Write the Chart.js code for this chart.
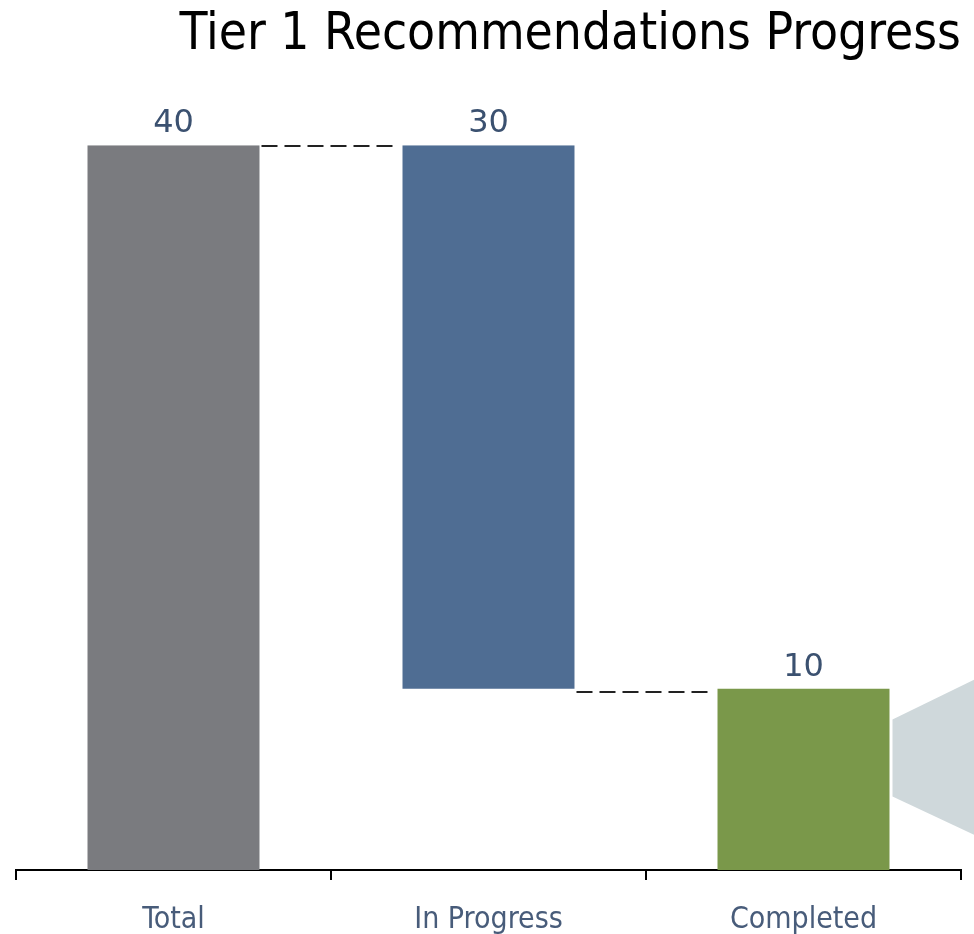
<!DOCTYPE html>
<html>
<head>
<meta charset="utf-8">
<script src="https://cdn.jsdelivr.net/npm/chart.js@4"></script>
<style>
  html, body { margin: 0; padding: 0; background: #fff; }
  #wrap { width: 974px; height: 934px; }
</style>
</head>
<body>
<div id="wrap"><canvas id="chart"></canvas></div>
<script>
const categories = ['Total', 'In Progress', 'Completed'];
const barStarts = [0, 10, 0];
const barEnds = [40, 40, 10];
const barColors = ['#7a7b7f', '#4f6d93', '#7a984a'];

// waterfall: each floating bar runs from start to end
const ranges = categories.map(function (c, i) { return [barStarts[i], barEnds[i]]; });

const overlay = {
    id: 'overlay',
    afterDatasetsDraw: function (chart) {
        const ctx = chart.ctx;
        const meta = chart.getDatasetMeta(0);
        const y = chart.scales.y;

        // grey callout shape off the right of the last bar
        const last = meta.data[meta.data.length - 1];
        const lx = last.x + last.width / 2 + 3;
        ctx.save();
        ctx.fillStyle = '#cfd8db';
        ctx.beginPath();
        ctx.moveTo(lx, y.getPixelForValue(8.3));
        ctx.lineTo(chart.width, y.getPixelForValue(10.5));
        ctx.lineTo(chart.width, y.getPixelForValue(1.95));
        ctx.lineTo(lx, y.getPixelForValue(4.05));
        ctx.closePath();
        ctx.fill();
        ctx.restore();

        // dashed connectors between bars
        ctx.save();
        ctx.strokeStyle = '#222';
        ctx.lineWidth = 2;
        ctx.setLineDash([16, 7]);
        for (let i = 0; i < meta.data.length - 1; i++) {
            const a = meta.data[i];
            const b = meta.data[i + 1];
            const lvl = (i === 0) ? barEnds[0] : barStarts[i];
            const py = Math.round(y.getPixelForValue(lvl)) + (i === 0 ? 1 : 3);
            ctx.beginPath();
            ctx.moveTo(a.x + a.width / 2 + 2, py);
            ctx.lineTo(b.x - b.width / 2 - 4, py);
            ctx.stroke();
        }
        ctx.restore();

        // value labels
        ctx.save();
        ctx.fillStyle = '#3b5170';
        ctx.font = '32px "DejaVu Sans"';
        ctx.textAlign = 'center';
        ctx.textBaseline = 'alphabetic';
        meta.data.forEach(function (bar, i) {
            const top = y.getPixelForValue(barEnds[i]);
            ctx.fillText(String(barEnds[i] - barStarts[i]), bar.x, top - 13);
        });
        ctx.restore();
    }
};

new Chart(document.getElementById('chart'), {
    type: 'bar',
    data: {
        labels: categories,
        datasets: [{
            data: ranges,
            backgroundColor: barColors,
            borderWidth: 0,
            categoryPercentage: 1,
            barPercentage: 0.546,
        }],
    },
    options: {
        responsive: true,
        maintainAspectRatio: false,
        animation: false,
        layout: { padding: { left: 16, right: 13, top: 0, bottom: -26 } },
        plugins: {
            legend: { display: false },
            tooltip: { enabled: false },
            title: {
                display: true,
                text: 'Tier 1 Recommendations Progress',
                align: 'end',
                color: '#000',
                font: { family: '"DejaVu Sans Condensed", "DejaVu Sans"', size: 51, weight: 'normal' },
                padding: { top: 5, bottom: 79 },
            },
        },
        scales: {
            x: {
                offset: true,
                border: { display: true, color: '#000', width: 2 },
                grid: {
                    offset: true,
                    drawOnChartArea: false,
                    drawTicks: true,
                    tickLength: 10,
                    color: '#000',
                    lineWidth: 2,
                },
                ticks: {
                    color: '#485c7a',
                    padding: 22,
                    font: { family: '"DejaVu Sans Condensed", "DejaVu Sans"', size: 30 },
                },
            },
            y: {
                display: false,
                min: 0,
                max: 40,
            },
        },
    },
    plugins: [overlay],
});
</script>
</body>
</html>
